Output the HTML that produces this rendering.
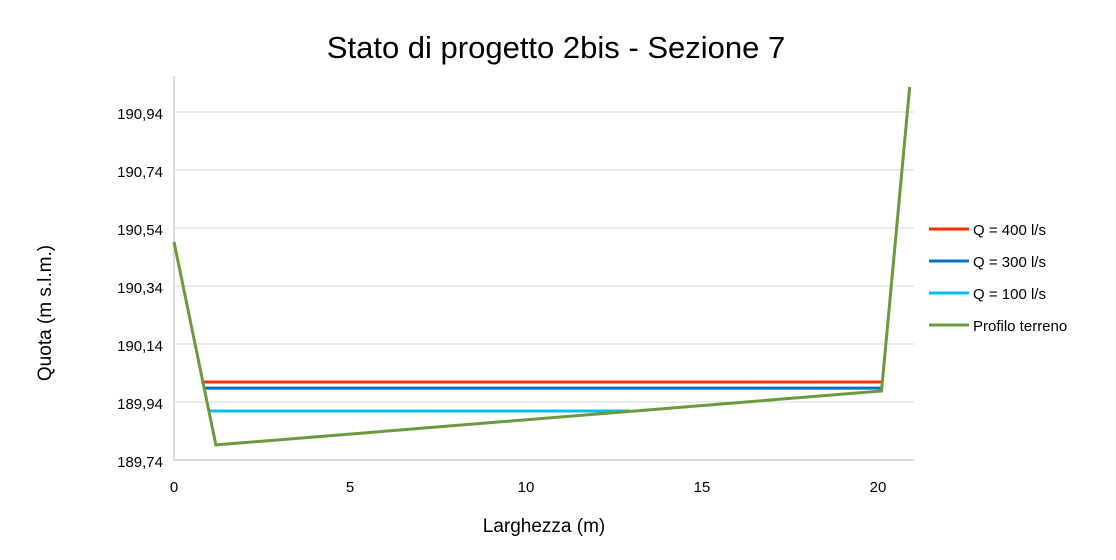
<!DOCTYPE html>
<html><head><meta charset="utf-8"><style>
body{margin:0;background:#fff;font-family:"Liberation Sans",sans-serif}
</style></head><body>
<svg width="1116" height="555" xmlns="http://www.w3.org/2000/svg">
<rect width="1116" height="555" fill="#fff"/>
<text x="556" y="58" text-anchor="middle" font-size="31" fill="#000">Stato di progetto 2bis - Sezione 7</text>
<g id="grid"></g><g id="ticks"></g><g id="series"></g><g id="legend"></g>
<text x="544" y="532" text-anchor="middle" font-size="19">Larghezza (m)</text>
<text transform="translate(51,313) rotate(-90)" text-anchor="middle" font-size="19">Quota (m s.l.m.)</text>
</svg>
<script>
const xTicks=[0,5,10,15,20];
const yTicks=[189.74,189.94,190.14,190.34,190.54,190.74,190.94];
const seriesNames=["Q = 400 l/s","Q = 300 l/s","Q = 100 l/s","Profilo terreno"];
const seriesColors=["#ff2a00","#0070c0","#00c0f0","#6a9a3c"];
const q400X=[0.77,20.1], q400Y=[190.009,190.009];
const q300X=[0.88,20.1], q300Y=[189.988,189.988];
const q100X=[1.02,12.95], q100Y=[189.909,189.909];
const terrX=[0,1.19,20.1,20.9], terrY=[190.492,189.792,189.978,191.026];
const L=174,R=914,T=76,B=460,ymin=189.74;
const sx=v=>L+v*35.2, sy=v=>B-(v-ymin)*290;
const NS="http://www.w3.org/2000/svg";
function mk(t,a,p){const e=document.createElementNS(NS,t);for(const k in a)e.setAttribute(k,a[k]);p.appendChild(e);return e;}
const grid=document.getElementById('grid'),ticks=document.getElementById('ticks');
yTicks.forEach(v=>{if(v>ymin){const g=mk('line',{x1:L,x2:R,y1:sy(v),y2:sy(v),stroke:'#d9d9d9','stroke-width':1},grid);

}
const t=mk('text',{x:163,y:sy(v)+7,'text-anchor':'end','font-size':15},ticks);t.textContent=v.toFixed(2).replace('.',',');

});
const ax=mk('path',{d:`M${L},${T}V${B}H${R}`,fill:'none',stroke:'#d0d0d0','stroke-width':1.5},grid);


xTicks.forEach(v=>{const t=mk('text',{x:sx(v),y:492,'text-anchor':'middle','font-size':15},ticks);t.textContent=v;

});
const data=[[q400X,q400Y],[q300X,q300Y],[q100X,q100Y],[terrX,terrY]];
const ser=document.getElementById('series'),leg=document.getElementById('legend');
data.forEach((d,i)=>{const pts=d[0].map((x,j)=>sx(x)+','+sy(d[1][j])).join(' ');
const p=mk('polyline',{points:pts,fill:'none',stroke:seriesColors[i],'stroke-width':3},ser);


const y=229+i*32;
const ll=mk('line',{x1:929,x2:969,y1:y,y2:y,stroke:seriesColors[i],'stroke-width':3},leg);


const lt=mk('text',{x:973,y:y+6,'font-size':15},leg);lt.textContent=seriesNames[i];

});
</script>
</body></html>
